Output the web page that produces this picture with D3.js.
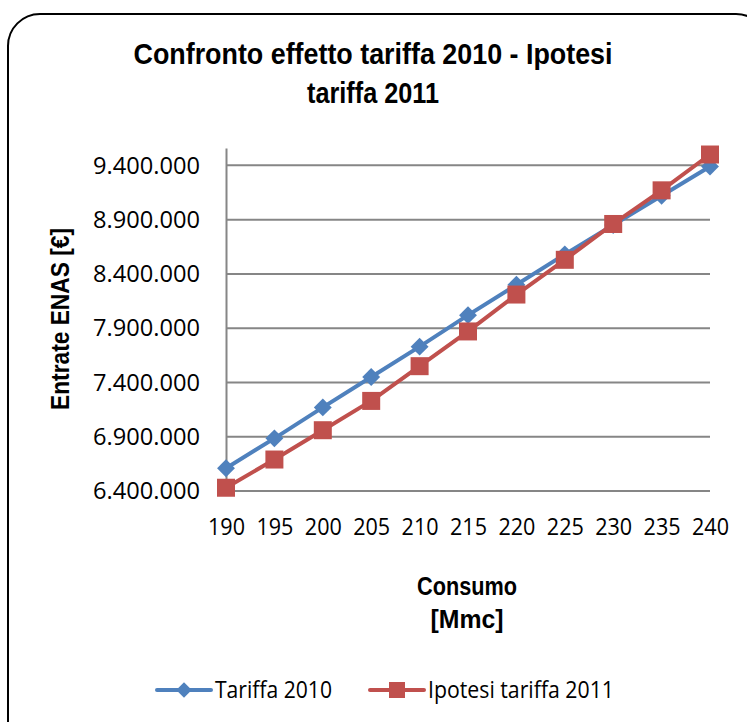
<!DOCTYPE html>
<html>
<head>
<meta charset="utf-8">
<script src="https://cdn.jsdelivr.net/npm/d3@7"></script>
<style>
html,body{margin:0;padding:0;background:#fff;}
svg{display:block;}
</style>
</head>
<body>
<svg id="chart" width="747" height="722"></svg>
<script>
const categories = [190, 195, 200, 205, 210, 215, 220, 225, 230, 235, 240];
const tariffa2010 = [6610000, 6885000, 7170000, 7450000, 7730000, 8020000, 8300000, 8580000, 8850000, 9120000, 9390000];
const ipotesi2011 = [6430000, 6690000, 6960000, 7230000, 7550000, 7870000, 8210000, 8530000, 8860000, 9170000, 9500000];
const yTicks = [6400000, 6900000, 7400000, 7900000, 8400000, 8900000, 9400000];
const seriesNames = ["Tariffa 2010", "Ipotesi tariffa 2011"];
const seriesColors = ["#4F81BD", "#C0504D"];
const titleLines = ["Confronto effetto tariffa 2010 - Ipotesi", "tariffa 2011"];
const xTitleLines = ["Consumo", "[Mmc]"];
const yTitle = "Entrate ENAS [€]";

(function () {
const svg = d3.select("#chart");
const bold = "'Liberation Sans',Arial,sans-serif";
const regular = "'Open Sans','Noto Sans',sans-serif";

// outer rounded frame
svg.append("rect").attr("x", 8).attr("y", 14).attr("width", 760).attr("height", 740)
  .attr("rx", 32).attr("ry", 32).attr("fill", "#fff").attr("stroke", "#000").attr("stroke-width", 2);

const pLeft = 226, pRight = 710, pTop = 148, pBottom = 491;
const x = d3.scalePoint().domain(categories).range([pLeft, pRight]);
const y = d3.scaleLinear().domain([6400000, 9560000]).range([pBottom, pTop]);
const fmt = v => d3.format(",")(v).replace(/,/g, ".");

// gridlines
svg.append("g").selectAll("line").data(yTicks).join("line")
  .attr("x1", pLeft).attr("x2", pRight)
  .attr("y1", d => y(d)).attr("y2", d => y(d))
  .attr("stroke", "#868686").attr("stroke-width", 2);

// y axis
const yAxis = svg.append("g").attr("transform", `translate(${pLeft},0)`)
  .call(d3.axisLeft(y).tickValues(yTicks).tickSize(0).tickPadding(26).tickFormat(fmt));
yAxis.select(".domain").attr("stroke", "#868686").attr("stroke-width", 2);
yAxis.selectAll("text").attr("font-family", regular).attr("font-size", 24).attr("fill", "#000")
  .attr("textLength", 107).attr("lengthAdjust", "spacingAndGlyphs");

// x axis labels
const xAxis = svg.append("g").attr("transform", `translate(0,${pBottom})`)
  .call(d3.axisBottom(x).tickSize(0).tickPadding(27));
xAxis.select(".domain").remove();
xAxis.selectAll("text").attr("font-family", regular).attr("font-size", 24).attr("fill", "#000")
  .attr("textLength", 37).attr("lengthAdjust", "spacingAndGlyphs");

// series
const series = [tariffa2010, ipotesi2011];
const line = d3.line().x((d, i) => x(categories[i])).y(d => y(d));
series.forEach((vals, s) => {
  svg.append("path").datum(vals).attr("d", line).attr("fill", "none")
    .attr("stroke", seriesColors[s]).attr("stroke-width", 4).attr("stroke-linejoin", "round");
  const g = svg.append("g");
  if (s === 0) {
    g.selectAll("path").data(vals).join("path")
      .attr("d", d3.symbol(d3.symbolSquare, 160))
      .attr("transform", (d, i) => `translate(${x(categories[i])},${y(d)}) rotate(45)`)
      .attr("fill", seriesColors[s]);
  } else {
    g.selectAll("rect").data(vals).join("rect")
      .attr("x", (d, i) => x(categories[i]) - 9).attr("y", d => y(d) - 9)
      .attr("width", 18).attr("height", 18).attr("fill", seriesColors[s]);
  }
});

// title
const tw = [479, 132];
svg.append("g").selectAll("text").data(titleLines).join("text")
  .attr("text-anchor", "middle").attr("font-family", bold).attr("font-weight", "bold")
  .attr("font-size", 30).attr("fill", "#000")
  .attr("x", 373).attr("y", (d, i) => 64 + i * 39)
  .attr("textLength", (d, i) => tw[i]).attr("lengthAdjust", "spacingAndGlyphs")
  .text(d => d);

// x title
const xw = [100, 73];
svg.append("g").selectAll("text").data(xTitleLines).join("text")
  .attr("text-anchor", "middle").attr("font-family", bold).attr("font-weight", "bold")
  .attr("font-size", 25).attr("fill", "#000")
  .attr("x", 467).attr("y", (d, i) => 595 + i * 33)
  .attr("textLength", (d, i) => xw[i]).attr("lengthAdjust", "spacingAndGlyphs")
  .text(d => d);

// y title
svg.append("text").attr("text-anchor", "middle").attr("font-family", bold).attr("font-weight", "bold")
  .attr("font-size", 25).attr("fill", "#000")
  .attr("textLength", 182).attr("lengthAdjust", "spacingAndGlyphs")
  .attr("transform", "translate(69,319) rotate(-90)").text(yTitle);

// legend
const legendItems = [{x: 157, tx: 215, w: 117}, {x: 370, tx: 428, w: 186}];
legendItems.forEach((it, s) => {
  const g = svg.append("g");
  g.append("line").attr("x1", it.x).attr("x2", it.x + 54).attr("y1", 690).attr("y2", 690)
    .attr("stroke", seriesColors[s]).attr("stroke-width", 4).attr("stroke-linecap", "round");
  if (s === 0) {
    g.append("path").attr("d", d3.symbol(d3.symbolSquare, 120))
      .attr("transform", `translate(${it.x + 27},690) rotate(45)`).attr("fill", seriesColors[s]);
  } else {
    g.append("rect").attr("x", it.x + 27 - 8).attr("y", 682).attr("width", 16).attr("height", 16)
      .attr("fill", seriesColors[s]);
  }
  g.append("text").attr("x", it.tx).attr("y", 698).attr("font-family", regular).attr("font-size", 23)
    .attr("fill", "#000").attr("textLength", it.w).attr("lengthAdjust", "spacingAndGlyphs")
    .text(seriesNames[s]);
});
})();
</script>
</body>
</html>
